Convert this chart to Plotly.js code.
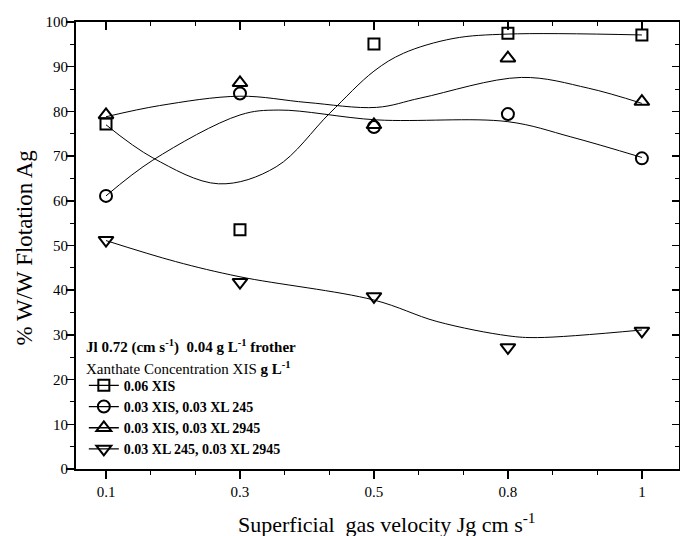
<!DOCTYPE html>
<html>
<head>
<meta charset="utf-8">
<script src="https://cdn.plot.ly/plotly-3.0.1.min.js"></script>
<style>
html,body{margin:0;padding:0;background:#fff;}
#chart{width:680px;height:536px;}
</style>
</head>
<body>
<div id="chart"></div>
<script>
// Category labels and positions
var xLabels = ['0.1', '0.3', '0.5', '0.8', '1'];
var xIdx = [0, 1, 2, 3, 4];

// Measured points
var sqY = [77.2, 53.5, 95.1, 97.5, 97.1];   // 0.06 XIS
var ciY = [61.1, 84.0, 76.5, 79.4, 69.5];   // 0.03 XIS, 0.03 XL 245
var tuY = [79.2, 86.4, 77.0, 91.9, 82.2];   // 0.03 XIS, 0.03 XL 2945
var tdY = [51.2, 41.8, 38.6, 27.2, 30.9];   // 0.03 XL 245, 0.03 XL 2945

// Fitted curves
var sqFitX = [0, 0.35, 0.84, 1.27, 1.67, 2.0, 2.22, 2.59, 3, 4];
var sqFitY = [77, 69.6, 63.8, 67.6, 79.6, 89, 93, 96.3, 97.3, 97.1];
var ciFitX = [0, 0.35, 1.0, 1.29, 2.02, 3, 3.47, 4];
var ciFitY = [61.1, 69.1, 79.2, 80.3, 78.1, 77.7, 74.3, 69.7];
var tuFitX = [0, 0.4, 1.0, 1.5, 2.02, 2.35, 3.1, 3.6, 4];
var tuFitY = [78.8, 81.3, 83.4, 82.0, 80.9, 83, 87.6, 85.2, 81.8];
var tdFitX = [0, 0.52, 1, 2, 2.47, 3, 3.22, 4];
var tdFitY = [51.1, 46.4, 43.0, 37.8, 33, 29.8, 29.4, 31.1];

var names = ['<b>0.06 XIS</b>', '<b>0.03 XIS, 0.03 XL 245</b>', '<b>0.03 XIS, 0.03 XL 2945</b>', '<b>0.03 XL 245, 0.03 XL 2945</b>'];
var symbols = ['square-open', 'circle-open', 'triangle-up-open', 'triangle-down-open'];
var sizes = [11, 12, 13, 13];
var pts = [sqY, ciY, tuY, tdY];
var fitsX = [sqFitX, ciFitX, tuFitX, tdFitX];
var fitsY = [sqFitY, ciFitY, tuFitY, tdFitY];

var serif = 'Liberation Serif, Times New Roman, serif';
var traces = [];
for (var i = 0; i < 4; i++) {
  traces.push({x: fitsX[i], y: fitsY[i], mode: 'lines', type: 'scatter',
    line: {color: 'black', width: 1, shape: 'spline', smoothing: 1}, showlegend: false, hoverinfo: 'skip'});
  traces.push({x: xIdx, y: pts[i], mode: 'markers', type: 'scatter',
    marker: {symbol: symbols[i], size: sizes[i], color: 'black', line: {width: 2, color: 'black'}}, showlegend: false});
}
for (var j = 0; j < 4; j++) {
  traces.push({x: [null], y: [null], mode: 'lines+markers', type: 'scatter', name: names[j],
    line: {color: 'black', width: 1.3},
    marker: {symbol: symbols[j], size: sizes[j], color: 'black', line: {width: 2, color: 'black'}}});
}

var xr = [-0.224, 4.277];
var layout = {
  width: 680, height: 536,
  margin: {l: 76, r: 1, t: 22, b: 67},
  paper_bgcolor: 'white', plot_bgcolor: 'white',
  font: {family: serif, color: 'black', size: 15},
  showlegend: true,
  legend: {x: 0.013, y: 0.222, xanchor: 'left', yanchor: 'top', bgcolor: 'rgba(0,0,0,0)',
    font: {family: serif, size: 14, color: 'black'}, tracegroupgap: 0, itemwidth: 30},
  xaxis: {range: xr, tickmode: 'array', tickvals: xIdx, ticktext: xLabels,
    showgrid: false, zeroline: false, showline: true, linecolor: 'black', linewidth: 2,
    ticks: 'outside', ticklen: 8, tickwidth: 1.5, tickcolor: 'black', ticklabelstandoff: 0,
    minor: {tickmode: 'linear', tick0: 0, dtick: 1/3, ticks: 'outside', ticklen: 4, tickwidth: 1, tickcolor: 'black', showgrid: false}},
  xaxis2: {range: xr, overlaying: 'x', side: 'top', tickmode: 'linear', tick0: 0, dtick: 1,
    showticklabels: false, showgrid: false, zeroline: false, showline: true, linecolor: 'black', linewidth: 2,
    ticks: 'inside', ticklen: 8, tickwidth: 1.5, tickcolor: 'black',
    minor: {tickmode: 'linear', tick0: 0, dtick: 1/3, ticks: 'inside', ticklen: 4, tickwidth: 1, tickcolor: 'black', showgrid: false}},
  yaxis: {range: [0, 100], dtick: 10, tick0: 0, showgrid: false, zeroline: false, showline: true,
    linecolor: 'black', linewidth: 2, ticks: 'outside', ticklen: 8, tickwidth: 1.5, tickcolor: 'black',
    ticklabelstandoff: -5,
    minor: {dtick: 5, ticks: 'outside', ticklen: 4, tickwidth: 1, tickcolor: 'black', showgrid: false}},
  yaxis2: {range: [0, 100], dtick: 10, tick0: 0, overlaying: 'y', side: 'right', showticklabels: false,
    showgrid: false, zeroline: false, showline: true, linecolor: 'black', linewidth: 2,
    ticks: 'inside', ticklen: 7, tickwidth: 1.5, tickcolor: 'black',
    minor: {dtick: 5, ticks: 'inside', ticklen: 4, tickwidth: 1, tickcolor: 'black', showgrid: false}},
  annotations: [
    {xref: 'paper', yref: 'paper', x: 0.013, y: 0.275, xanchor: 'left', yanchor: 'middle', showarrow: false,
     text: '<b>Jl 0.72 (cm s<sup>-1</sup>)&nbsp;&nbsp;0.04 g L<sup>-1</sup> frother</b>', font: {size: 15, family: serif}},
    {xref: 'paper', yref: 'paper', x: 0.013, y: 0.226, xanchor: 'left', yanchor: 'middle', showarrow: false,
     text: 'Xanthate Concentration XIS <b>g L<sup>-1</sup></b>', font: {size: 15, family: serif}},
    {xref: 'paper', yref: 'paper', x: 0.5155, y: -0.121, xanchor: 'center', yanchor: 'middle', showarrow: false,
     text: 'Superficial&nbsp;&nbsp;gas velocity Jg cm s<sup>-1</sup>', font: {size: 22, family: serif}},
    {xref: 'paper', yref: 'paper', x: -0.0846, y: 0.4955, xanchor: 'center', yanchor: 'middle', showarrow: false,
     textangle: -90, text: '% W/W Flotation Ag', font: {size: 23, family: serif}}
  ]
};
// dummy trace to activate the mirrored axes
traces.push({x: [null], y: [null], xaxis: 'x2', yaxis: 'y2', showlegend: false, type: 'scatter', mode: 'markers'});

Plotly.newPlot('chart', traces, layout, {displayModeBar: false, staticPlot: true});
</script>
</body>
</html>
